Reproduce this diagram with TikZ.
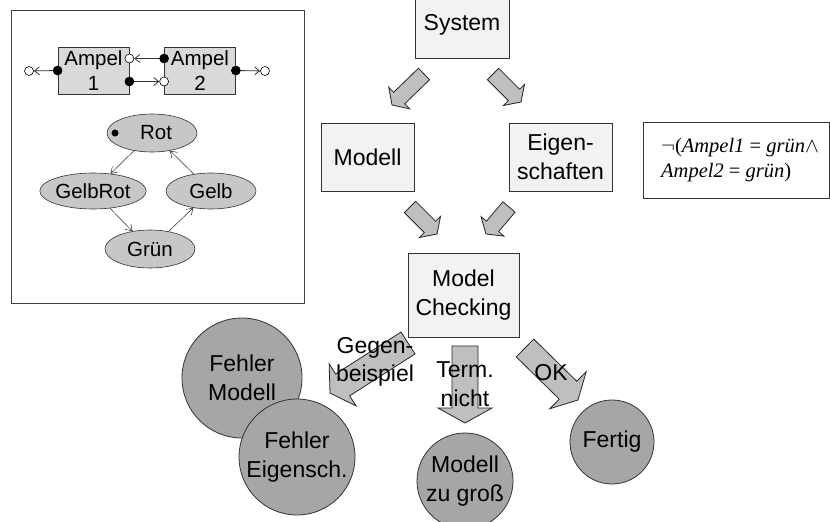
\documentclass[tikz,border=0pt]{standalone}
\usepackage{fontspec}
\setmainfont{Liberation Sans}
\newfontfamily\formulafont{Liberation Serif}
\usetikzlibrary{calc,shapes.geometric,arrows.meta}

% block arrow from tail #1 to tip #2: half shaft width #3, half head width #4, head length #5
\newcommand\fatarrow[5]{%
  \path ($(#2)!#5!(#1)$) coordinate (fa-h);
  \draw[fat] ($(#1)!#3!-90:(#2)$) -- ($(fa-h)!#3!-90:(#2)$) -- ($(fa-h)!#4!-90:(#2)$)
    -- (#2) -- ($(fa-h)!#4!90:(#2)$) -- ($(fa-h)!#3!90:(#2)$) -- ($(#1)!#3!90:(#2)$) -- cycle;}

\begin{document}
\begin{tikzpicture}[x=1pt,y=-1pt,
  bigtext/.style={font=\fontsize{23}{28.5}\selectfont, align=center},
  smalltext/.style={font=\fontsize{20.5}{25}\selectfont, align=center},
  stagebox/.style={draw=black!80, line width=0.8pt, fill=black!5, inner sep=0pt, bigtext},
  ampelbox/.style={draw=black!80, line width=0.8pt, fill=black!15, minimum width=71pt,
    minimum height=47pt, inner sep=0pt, smalltext},
  lampstate/.style={ellipse, draw=black!80, line width=0.6pt, fill=black!22, minimum width=90pt,
    minimum height=38pt, inner sep=0pt, smalltext},
  resultcircle/.style={circle, draw=black!80, line width=0.8pt, fill=black!35, inner sep=0pt, bigtext},
  fat/.style={draw=black!85, line width=0.8pt, fill=black!25, line join=miter},
  portdot/.style={circle, draw=black, line width=0.6pt, inner sep=0pt, minimum size=9pt},
  outport/.style={portdot, fill=black},
  inport/.style={portdot, fill=white},
  sigline/.style={draw=black!80, line width=0.8pt, -{Straight Barb[length=5pt,width=8pt]}},
  trans/.style={draw=black!85, line width=0.5pt, -{Straight Barb[length=6pt,width=8pt]}}
]
\useasboundingbox (0,0) rectangle (830,522);
\clip (0,0) rectangle (830,522);

% ---------- left panel: two traffic lights and their state machine ----------
\node[draw=black!75, line width=0.8pt, minimum width=293pt, minimum height=293pt, inner sep=0pt,
  anchor=north west] (panel) at (11,10) {};

\node[ampelbox] (a1) at (93.5,70.5) {Ampel\\1};
\node[ampelbox] (a2) at (200,70.5) {Ampel\\2};

\node[outport] (a1out) at (a1.west) {};
\node[inport]  (a1outend) at (29,71) {};
\node[outport] (a1r) at ($(a1.east)+(0,11)$) {};
\node[inport]  (a2in) at ($(a2.west)+(0,11)$) {};
\node[outport] (a2l) at ($(a2.west)+(0,-12)$) {};
\node[inport]  (a1in) at ($(a1.east)+(0,-12)$) {};
\node[outport] (a2out) at (a2.east) {};
\node[inport]  (a2outend) at (265,71) {};

\draw[sigline] (a1out) -- (a1outend);
\draw[sigline] (a1r) -- (a2in);
\draw[sigline] (a2l) -- (a1in);
\draw[sigline] (a2out) -- (a2outend);

\node[lampstate] (rot) at (152,133) {\hspace*{8pt}Rot};
\node[lampstate, minimum width=92pt, minimum height=36pt] (gelbrot) at (93,191) {GelbRot};
\node[lampstate, minimum height=36pt] (gelb) at (211,191) {Gelb};
\node[lampstate] (gruen) at (150,249) {Grün};
\node[circle, fill=black, inner sep=0pt, minimum size=7pt] (rotdot) at (115,133) {};

\draw[trans] (rot) -- (gelbrot);
\draw[trans] (gelbrot) -- (gruen);
\draw[trans] (gruen) -- (gelb);
\draw[trans] (gelb) -- (rot);

% ---------- block arrows of the work flow ----------
\coordinate (f1t) at (424,74);  \coordinate (f1h) at (392,105);
\coordinate (f2t) at (493,74);  \coordinate (f2h) at (521,102);
\coordinate (f3t) at (410,207); \coordinate (f3h) at (437,234);
\coordinate (f4t) at (509,207); \coordinate (f4h) at (486,234);
\coordinate (f5t) at (408,343); \coordinate (f5h) at (330,393);
\coordinate (f6t) at (465,346); \coordinate (f6h) at (465,423);
\coordinate (f7t) at (525,348); \coordinate (f7h) at (578,400);

\fatarrow{f1t}{f1h}{8pt}{15pt}{10pt}
\fatarrow{f2t}{f2h}{8pt}{15pt}{10pt}
\fatarrow{f3t}{f3h}{8pt}{15pt}{10pt}
\fatarrow{f4t}{f4h}{8pt}{15pt}{10pt}
\fatarrow{f5t}{f5h}{13pt}{25pt}{15pt}
\fatarrow{f6t}{f6h}{13pt}{27pt}{15pt}
\fatarrow{f7t}{f7h}{12.5pt}{26pt}{14pt}

% ---------- process boxes ----------
\node[stagebox, minimum width=94pt, minimum height=66pt] (system) at (462,25) {System};
\node[stagebox, minimum width=93pt, minimum height=68pt] (modell) at (367.5,157) {Modell};
\node[stagebox, minimum width=103pt, minimum height=68pt] (eigen) at (560.5,157) {Eigen-\\schaften};
\node[stagebox, minimum width=111pt, minimum height=84pt] (mc) at (463.5,295) {Model\\Checking};

% property formula
\node[draw=black!80, line width=0.8pt, minimum width=186pt, minimum height=76pt, inner sep=0pt,
  anchor=north west] (prop) at (643,122) {};
\node[anchor=west, align=left, inner sep=0pt, font=\formulafont\fontsize{20.5}{25}\selectfont]
  (proptext) at (661,160.5)
  {$\neg$(\textit{Ampel1} = \textit{grün}$\wedge$\\\textit{Ampel2} = \textit{grün})};

% ---------- results ----------
\node[resultcircle, minimum size=120pt] (fmod) at (242,378) {Fehler\\Modell};
\node[resultcircle, minimum size=116pt] (feig) at (297,457) {Fehler\\Eigensch.};
\node[resultcircle, minimum size=96pt] (zugross) at (465,481) {Modell\\zu groß};
\node[resultcircle, minimum size=84pt] (fertig) at (612,442) {Fertig};

% labels on the outcome arrows
\node[bigtext, inner sep=0pt] (lgegen) at (375,362) {Gegen-\\beispiel};
\node[bigtext, inner sep=0pt] (lterm) at (465,384) {Term.\\nicht};
\node[bigtext, inner sep=0pt] (lok) at (551,373) {OK};
\end{tikzpicture}
\end{document}
